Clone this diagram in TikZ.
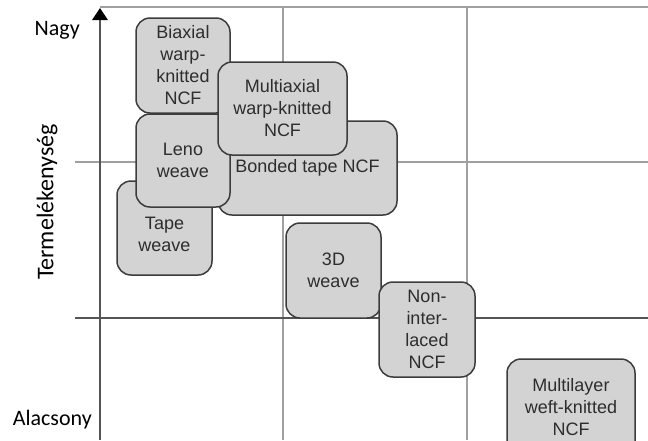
\documentclass[tikz,border=0pt]{standalone}
\usepackage{fontspec}
\setmainfont{Liberation Sans}
\newfontfamily\labelfont{Carlito}
\definecolor{boxfill}{RGB}{211,211,211}
\definecolor{boxline}{RGB}{60,60,60}
\definecolor{boxtext}{RGB}{45,45,45}
\definecolor{gridlight}{RGB}{160,160,160}
\definecolor{griddark}{RGB}{85,85,85}
\begin{document}
\begin{tikzpicture}[x=1pt,y=-1pt,
  box/.style={draw=boxline, fill=boxfill, line width=1.5pt, rounded corners=14pt,
    align=center, text=boxtext, font=\fontsize{18}{22}\selectfont, inner sep=0pt},
  boxlabel/.style={align=center, text=boxtext, font=\fontsize{18}{22}\selectfont, inner sep=0pt},
  lightline/.style={draw=gridlight, line width=1.6pt},
  darkline/.style={draw=griddark, line width=1.5pt},
  axislab/.style={font=\labelfont\fontsize{22}{26}\selectfont, text=black, inner sep=0pt}]
\path[use as bounding box] (0,0) rectangle (648,440);
\clip (0,0) rectangle (648,440);

% frame and grid anchors
\coordinate (topL) at (100,7);
\coordinate (topR) at (648,7);
\coordinate (midL) at (75,162);
\coordinate (midR) at (648,162);
\coordinate (lowL) at (75,318);
\coordinate (lowR) at (648,318);
\coordinate (v1T) at (283,7);
\coordinate (v1B) at (283,440);
\coordinate (v2T) at (467,7);
\coordinate (v2B) at (467,440);
\coordinate (axTip) at (100,8);
\coordinate (axBase) at (100,20);
\coordinate (axEnd) at (100,440);

% grid
\draw[lightline] (topL) -- (topR);
\draw[lightline] (midL) -- (midR);
\draw[lightline] (v1T) -- (v1B);
\draw[lightline] (v2T) -- (v2B);
\draw[darkline] (lowL) -- (lowR);

% vertical axis with arrow head
\draw[darkline] (axBase) -- (axEnd);
\fill[black] (axTip) -- ([xshift=-8pt,yshift=-12pt]axTip) -- ([xshift=8pt,yshift=-12pt]axTip) -- cycle;

% axis labels
\node[axislab, anchor=east] (nagy) at (80,30) {Nagy};
\node[axislab, anchor=east] (alacsony) at (92,420) {Alacsony};
\node[axislab, font=\labelfont\fontsize{24}{28}\selectfont, rotate=90] (title) at (47,202) {Termelékenység};

% boxes, back to front
\node[box, minimum width=94pt, minimum height=95pt] (biaxial) at (183,65.5) {Biaxial\\warp-\\knitted\\NCF};
\node[box, minimum width=95pt, minimum height=94pt] (tape) at (164.5,228) {};
\node[boxlabel] (tapetext) at ([yshift=-6pt]tape.center) {Tape\\weave};
\node[box, minimum width=179pt, minimum height=94pt] (bonded) at (307.5,168) {Bonded tape NCF};
\node[box, minimum width=94pt, minimum height=93pt] (leno) at (183,160.5) {Leno\\weave};
\node[box, minimum width=129pt, minimum height=93pt] (multiax) at (282.5,108.5) {Multiaxial\\warp-knitted\\NCF};
\node[box, minimum width=95pt, minimum height=95pt] (weave3d) at (333.5,270.5) {3D\\weave};
\node[box, minimum width=96pt, minimum height=95pt] (nonint) at (427,329.5) {Non-\\inter-\\laced\\NCF};
\node[box, minimum width=128pt, minimum height=96pt] (multilayer) at (571,407) {Multilayer\\weft-knitted\\NCF};
\end{tikzpicture}
\end{document}
